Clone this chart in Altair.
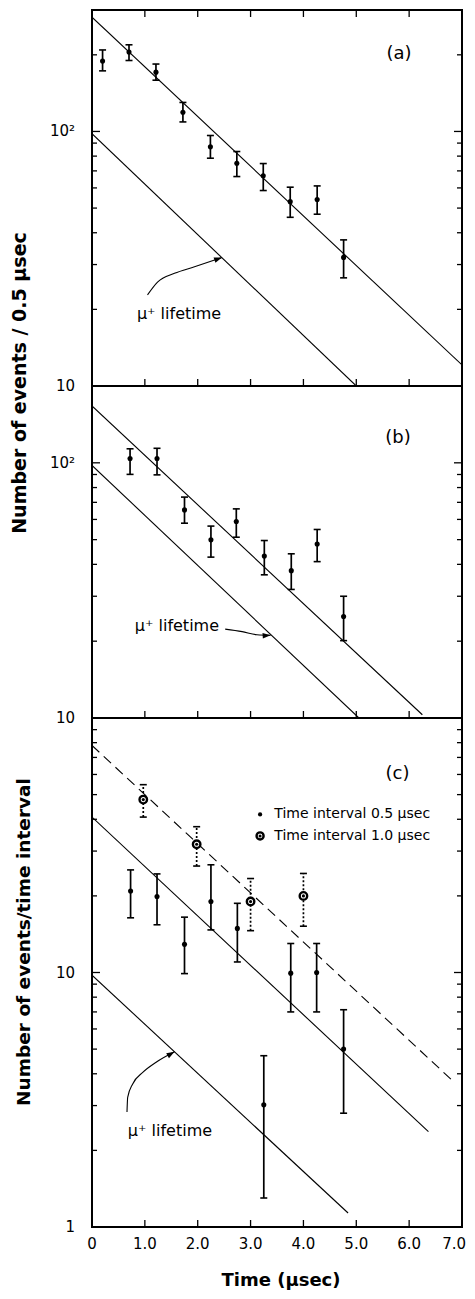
import altair as alt
import pandas as pd

FONT = "DejaVu Sans"

# ---------------- data ----------------
# panel (a)
a_t = [0.20, 0.70, 1.21, 1.72, 2.24, 2.74, 3.24, 3.75, 4.26, 4.76]
a_n = [189, 205, 171, 119, 87, 75, 67, 53, 54, 32]
a_lo = [173, 190, 159, 109, 78.5, 66.5, 58.6, 46, 47.3, 26.6]
a_hi = [209, 219, 184, 130, 96.4, 83.4, 74.8, 60.4, 61.1, 37.5]
a_fit_t = [0.0, 7.0]
a_fit_n = [281, 12.1]
a_mu_t = [0.0, 5.0]
a_mu_n = [98, 10]

# panel (b)
b_t = [0.72, 1.23, 1.75, 2.25, 2.73, 3.26, 3.77, 4.26, 4.76]
b_n = [104, 104, 65.4, 49.9, 58.9, 43.1, 37.8, 48.1, 25.0]
b_lo = [90.1, 89.7, 58, 42.7, 51.1, 36.4, 31.9, 41.0, 20.1]
b_hi = [113.5, 114, 73.4, 56.5, 66.0, 49.6, 44.0, 54.8, 30.0]
b_fit_t = [0.0, 6.25]
b_fit_n = [167, 10.3]
b_mu_t = [0.0, 5.05]
b_mu_n = [97.7, 10]

# panel (c)
c5_t = [0.73, 1.23, 1.75, 2.25, 2.75, 3.25, 3.76, 4.25, 4.76]
c5_n = [20.9, 19.9, 12.9, 19.0, 14.9, 3.02, 9.94, 10.0, 5.0]
c5_lo = [16.4, 15.4, 9.9, 14.7, 11.0, 1.30, 7.0, 7.0, 2.8]
c5_hi = [25.3, 24.4, 16.5, 26.5, 18.7, 4.71, 13.0, 13.0, 7.14]
c10_t = [0.97, 1.98, 3.0, 4.0]
c10_n = [47.8, 31.9, 19.0, 20.0]
c10_lo = [40.8, 26.2, 14.6, 15.2]
c10_hi = [54.7, 37.4, 23.4, 24.5]
c_dash_t = [0.0, 6.82]
c_dash_n = [78, 3.76]
c_fit_t = [0.0, 6.365]
c_fit_n = [40.8, 2.37]
c_mu_t = [0.0, 4.845]
c_mu_n = [9.76, 1.135]

# annotation arrows (data coordinates)
a_arrow_t = [1.05, 1.24, 1.56, 1.94, 2.46]
a_arrow_n = [22.8, 25.6, 27.7, 29.4, 32.0]
b_arrow_t = [2.52, 2.84, 3.12, 3.38]
b_arrow_n = [22.3, 21.8, 21.2, 21.1]
c_arrow_t = [0.662, 0.675, 0.770, 0.960, 1.213, 1.561]
c_arrow_n = [2.83, 3.23, 3.65, 4.05, 4.44, 4.88]

# text
mu_label = "\u03bc\u207a lifetime"
panel_names = ["(a)", "(b)", "(c)"]
legend_labels = ["Time interval 0.5 \u03bcsec", "Time interval 1.0 \u03bcsec"]
x_title = "Time  (\u03bcsec)"
y_title_ab = "Number of events / 0.5 \u03bcsec"
y_title_c = "Number of events/time interval"

# ticks and tick labels
x_tick_vals = [1, 2, 3, 4, 5, 6]
x_label_vals = [0, 1, 2, 3, 4, 5, 6]
x_label_text = ["0", "1.0", "2.0", "3.0", "4.0", "5.0", "6.0"]
x_last_val = [7]
x_last_text = ["7.0"]
a_major = [100]
a_minor = [20, 30, 40, 50, 60, 70, 80, 90, 200]
a_label_vals = [10, 100]
a_label_text = ["10", "10\u00b2"]
b_major = [100]
b_minor = [20, 30, 40, 50, 60, 70, 80, 90]
b_label_vals = [10, 100]
b_label_text = ["10", "10\u00b2"]
c_major = [10]
c_minor = [2, 3, 4, 5, 6, 7, 8, 9, 20, 30, 40, 50, 60, 70, 80, 90]
c_label_vals = [1, 10]
c_label_text = ["1", "10"]

# ---------------- layout ----------------
W = 370
HA, HB, HC = 376, 332, 509

xsc = alt.Scale(domain=[0, 7], nice=False, zero=False)


def ysc(dom):
    return alt.Scale(type="log", domain=dom, nice=False)


def X():
    return alt.X("t:Q", scale=xsc, axis=None)


def Yv(ys, field="v:Q"):
    return alt.Y(field, scale=ys, axis=None)


def line_layer(ts, ns, ys, dash=None):
    df = pd.DataFrame({"t": ts, "v": ns})
    kw = dict(color="black", strokeWidth=1.1, clip=True)
    if dash:
        kw["strokeDash"] = dash
    return alt.Chart(df).mark_line(**kw).encode(x=X(), y=Yv(ys))


def err_layers(ts, ns, lo, hi, ys, dotted=False, ring=False):
    df = pd.DataFrame({"t": ts, "v": ns, "lo": lo, "hi": hi})
    caps = pd.DataFrame({"t": ts + ts, "v": lo + hi})
    kw = dict(color="black", strokeWidth=1.7)
    if dotted:
        kw["strokeDash"] = [2, 2]
    bars = alt.Chart(df).mark_rule(**kw).encode(x=X(), y=Yv(ys, "lo:Q"), y2="hi:Q")
    capl = alt.Chart(caps).mark_tick(
        orient="horizontal", size=7, thickness=1.6, color="black", opacity=1
    ).encode(x=X(), y=Yv(ys))
    out = [bars, capl]
    if ring:
        out.append(alt.Chart(df).mark_point(
            shape="circle", size=56, filled=False, stroke="black",
            strokeWidth=2.4, fill="white", fillOpacity=1, opacity=1
        ).encode(x=X(), y=Yv(ys)))
        out.append(alt.Chart(df).mark_circle(size=10, color="black", opacity=1).encode(
            x=X(), y=Yv(ys)))
    else:
        out.append(alt.Chart(df).mark_circle(size=26, color="black", opacity=1).encode(
            x=X(), y=Yv(ys)))
    return out


def arrow_layers(ts, ns, ys, ang):
    df = pd.DataFrame({"t": ts, "v": ns})
    curve = alt.Chart(df).mark_line(
        color="black", strokeWidth=1.1, interpolate="monotone"
    ).encode(x=X(), y=Yv(ys))
    head = alt.Chart(df.tail(1)).mark_point(
        shape="M0,0 L-2,-0.7 L-2,0.7 Z", size=64, filled=True,
        color="black", opacity=1, angle=ang
    ).encode(x=X(), y=Yv(ys))
    return [curve, head]


def text_layer(ts, ns, labels, ys, size=14, align="center", weight="normal"):
    df = pd.DataFrame({"t": ts, "v": ns, "label": labels})
    return alt.Chart(df).mark_text(
        font=FONT, fontSize=size, align=align, baseline="middle",
        color="black", fontWeight=weight
    ).encode(x=X(), y=Yv(ys), text="label:N")


def ytick_layers(major, minor, ys):
    layers = []
    for vals, L in ((major, 8), (minor, 5)):
        d = pd.DataFrame({"v": vals})
        for x0, x1 in ((0, L), (W - L, W)):
            layers.append(alt.Chart(d).mark_rule(color="black", strokeWidth=1.3).encode(
                y=Yv(ys), x=alt.value(x0), x2=alt.value(x1)))
    return layers


def ylabel_layer(vals, texts, ys):
    d = pd.DataFrame({"v": vals, "label": texts})
    return alt.Chart(d).mark_text(
        font=FONT, fontSize=15, align="right", baseline="middle", color="black"
    ).encode(y=Yv(ys), x=alt.value(-17), text="label:N")


def ytitle_layer(text, px, py, size):
    d = pd.DataFrame({"label": [text]})
    return alt.Chart(d).mark_text(
        font=FONT, fontSize=size, fontWeight="bold", align="center", baseline="middle",
        angle=270, color="black"
    ).encode(x=alt.value(px), y=alt.value(py), text="label:N")


def xtick_layers(H, top, bottom):
    d = pd.DataFrame({"t": x_tick_vals})
    layers = []
    if top:
        layers.append(alt.Chart(d).mark_rule(color="black", strokeWidth=1.3).encode(
            x=X(), y=alt.value(0), y2=alt.value(7)))
    if bottom:
        layers.append(alt.Chart(d).mark_rule(color="black", strokeWidth=1.3).encode(
            x=X(), y=alt.value(H - 7), y2=alt.value(H)))
    return layers


# ---------------- panel (a) ----------------
ysa = ysc([10, 300])
pa_layers = (
    ytick_layers(a_major, a_minor, ysa)
    + xtick_layers(HA, True, True)
    + [line_layer(a_fit_t, a_fit_n, ysa), line_layer(a_mu_t, a_mu_n, ysa)]
    + err_layers(a_t, a_n, a_lo, a_hi, ysa)
    + arrow_layers(a_arrow_t, a_arrow_n, ysa, 340)
    + [text_layer([1.646], [19.1], [mu_label], ysa, 16),
       text_layer([5.81], [201], [panel_names[0]], ysa, 18),
       ylabel_layer(a_label_vals, a_label_text, ysa),
       ytitle_layer(y_title_ab, -72, 373, 19)]
)
pa = alt.layer(*pa_layers).properties(width=W, height=HA)

# ---------------- panel (b) ----------------
ysb = ysc([10, 200])
pb_layers = (
    ytick_layers(b_major, b_minor, ysb)
    + xtick_layers(HB, False, True)
    + [line_layer(b_fit_t, b_fit_n, ysb), line_layer(b_mu_t, b_mu_n, ysb)]
    + err_layers(b_t, b_n, b_lo, b_hi, ysb)
    + arrow_layers(b_arrow_t, b_arrow_n, ysb, 356)
    + [text_layer([1.606], [22.9], [mu_label], ysb, 16),
       text_layer([5.79], [125], [panel_names[1]], ysb, 18),
       ylabel_layer(b_label_vals, b_label_text, ysb)]
)
pb = alt.layer(*pb_layers).properties(width=W, height=HB)

# ---------------- panel (c) ----------------
ysc_c = ysc([1, 100])
leg_sym = pd.DataFrame({"t": [3.18, 3.18], "v": [41.8, 34.4]})
xlab = pd.DataFrame({"t": x_label_vals, "label": x_label_text})
xlast = pd.DataFrame({"t": x_last_val, "label": x_last_text})
pc_layers = (
    ytick_layers(c_major, c_minor, ysc_c)
    + xtick_layers(HC, False, True)
    + [line_layer(c_dash_t, c_dash_n, ysc_c, dash=[10, 6]),
       line_layer(c_fit_t, c_fit_n, ysc_c),
       line_layer(c_mu_t, c_mu_n, ysc_c)]
    + err_layers(c5_t, c5_n, c5_lo, c5_hi, ysc_c)
    + err_layers(c10_t, c10_n, c10_lo, c10_hi, ysc_c, dotted=True, ring=True)
    + arrow_layers(c_arrow_t, c_arrow_n, ysc_c, 330)
    + [text_layer([1.475], [2.38], [mu_label], ysc_c, 16),
       text_layer([5.78], [60.3], [panel_names[2]], ysc_c, 18),
       text_layer([3.45, 3.45], [41.8, 34.4], legend_labels, ysc_c, 14, align="left"),
       alt.Chart(leg_sym.head(1)).mark_circle(size=18, color="black", opacity=1).encode(
           x=X(), y=Yv(ysc_c)),
       alt.Chart(leg_sym.tail(1)).mark_point(
           shape="circle", size=50, filled=False, stroke="black", strokeWidth=2.4,
           fill="white", fillOpacity=1, opacity=1).encode(x=X(), y=Yv(ysc_c)),
       alt.Chart(leg_sym.tail(1)).mark_circle(size=9, color="black", opacity=1).encode(
           x=X(), y=Yv(ysc_c)),
       ylabel_layer(c_label_vals, c_label_text, ysc_c),
       ytitle_layer(y_title_c, -68, 224, 18.5),
       alt.Chart(xlab).mark_text(
           font=FONT, fontSize=15, align="center", baseline="middle", color="black"
       ).encode(x=X(), y=alt.value(HC + 17), text="label:N"),
       alt.Chart(xlast).mark_text(
           font=FONT, fontSize=15, align="right", baseline="middle", color="black",
           dx=4
       ).encode(x=X(), y=alt.value(HC + 17), text="label:N"),
       alt.Chart(pd.DataFrame({"label": [x_title]})).mark_text(
           font=FONT, fontSize=18, fontWeight="bold", align="center",
           baseline="middle", color="black"
       ).encode(x=alt.value(189), y=alt.value(HC + 54), text="label:N")]
)
pc = alt.layer(*pc_layers).properties(width=W, height=HC)

chart = alt.vconcat(pa, pb, pc, spacing=0, bounds="flush").properties(
    padding={"left": 2, "top": 0, "right": 0, "bottom": 0}
).configure(font=FONT).configure_view(stroke="black", strokeWidth=2)

chart.save("out.html", embed_options={"renderer": "svg", "actions": False})
